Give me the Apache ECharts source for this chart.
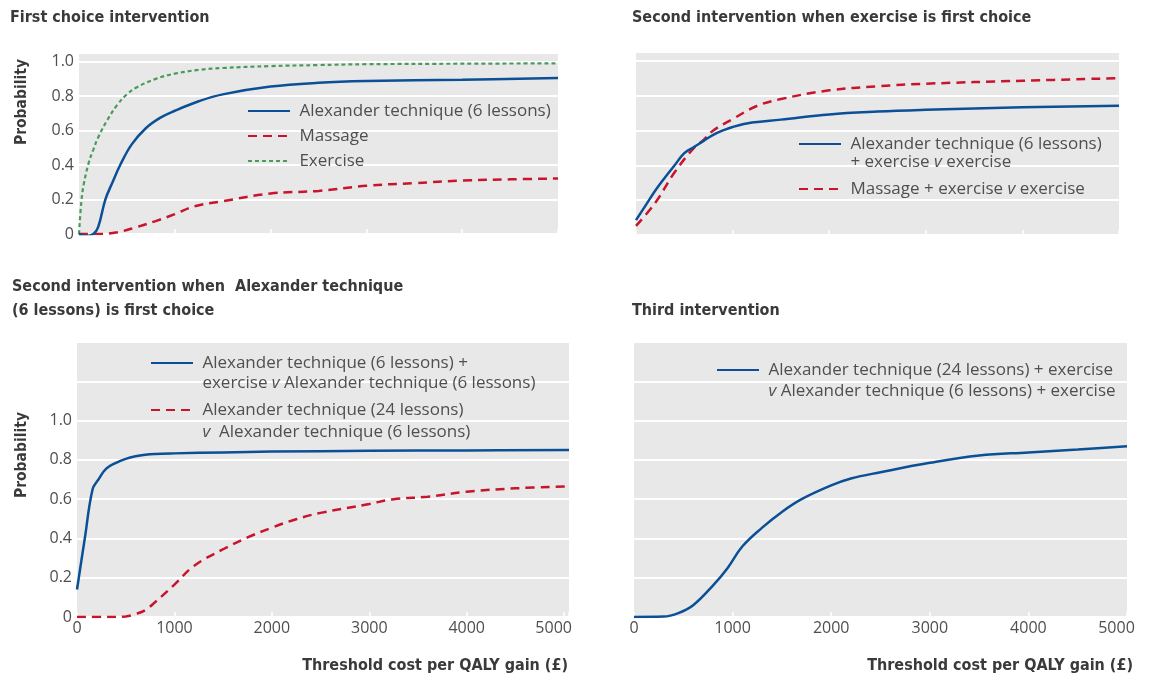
<!DOCTYPE html>
<html><head><meta charset="utf-8">
<script src="https://cdn.jsdelivr.net/npm/echarts@6/dist/echarts.min.js"></script>
<style>html,body{margin:0;padding:0;background:#fff}#c{width:1149px;height:675px}</style>
</head><body><div id="c"></div>
<script>
// ---------- data (threshold cost £ vs probability) ----------
const xTickLabels = ['0', '1000', '2000', '3000', '4000', '5000'];
const yTickLabels = ['0', '0.2', '0.4', '0.6', '0.8', '1.0'];

// Panel A: First choice intervention
const aAlexX = [0, 75, 150, 200, 275, 350, 430, 550, 700, 850, 1000, 1250, 1500, 2000, 2500, 3000, 4000, 5000];
const aAlexY = [0, -0.012, 0.0, 0.04, 0.2, 0.3, 0.4, 0.52, 0.615, 0.675, 0.715, 0.77, 0.81, 0.855, 0.877, 0.887, 0.895, 0.905];
const aMassX = [0, 200, 400, 600, 800, 1000, 1200, 1500, 2000, 2500, 3000, 3500, 4000, 4500, 5000];
const aMassY = [0, 0.0, 0.01, 0.04, 0.075, 0.115, 0.16, 0.19, 0.235, 0.25, 0.28, 0.295, 0.31, 0.317, 0.322];
const aExerX = [0, 25, 50, 100, 150, 200, 300, 400, 500, 600, 800, 1000, 1250, 1500, 2000, 2500, 3000, 4000, 5000];
const aExerY = [0, 0.19, 0.29, 0.41, 0.49, 0.56, 0.665, 0.75, 0.81, 0.85, 0.9, 0.93, 0.952, 0.963, 0.974, 0.98, 0.985, 0.988, 0.99];

// Panel B: Second intervention when exercise is first choice
const bAlexX = [0, 100, 200, 300, 400, 500, 600, 700, 800, 900, 1000, 1200, 1500, 2000, 2500, 3000, 4000, 5000];
const bAlexY = [0.085, 0.17, 0.255, 0.33, 0.40, 0.47, 0.505, 0.54, 0.575, 0.60, 0.62, 0.645, 0.662, 0.692, 0.708, 0.718, 0.733, 0.742];
const bMassX = [0, 200, 400, 600, 700, 800, 1000, 1250, 1500, 2000, 2500, 3000, 4000, 5000];
const bMassY = [0.052, 0.185, 0.36, 0.50, 0.545, 0.60, 0.665, 0.74, 0.78, 0.83, 0.853, 0.868, 0.885, 0.90];

// Panel C: Second intervention when Alexander technique (6 lessons) is first choice
const cAlexExX = [0, 80, 160, 220, 300, 400, 500, 600, 700, 800, 1000, 1500, 2000, 3000, 4000, 5050];
const cAlexExY = [0.14, 0.40, 0.65, 0.70, 0.755, 0.785, 0.805, 0.818, 0.826, 0.83, 0.833, 0.838, 0.842, 0.846, 0.848, 0.85];
const cAlex24X = [0, 300, 500, 600, 700, 800, 1000, 1200, 1500, 1750, 2000, 2250, 2500, 3000, 3250, 3600, 4000, 4500, 5050];
const cAlex24Y = [0, 0, 0.003, 0.015, 0.035, 0.075, 0.165, 0.26, 0.345, 0.405, 0.455, 0.498, 0.53, 0.575, 0.60, 0.612, 0.638, 0.655, 0.665];

// Panel D: Third intervention
const dAlexX = [0, 300, 450, 600, 800, 950, 1100, 1300, 1500, 1700, 2000, 2200, 2500, 3000, 3500, 4000, 4500, 5000];
const dAlexY = [0, 0.002, 0.02, 0.06, 0.16, 0.25, 0.36, 0.455, 0.535, 0.60, 0.67, 0.705, 0.737, 0.785, 0.822, 0.838, 0.853, 0.869];

const zip = (xs, ys) => xs.map((x, i) => [x, ys[i]]);

// ---------- styling ----------
const BLUE = '#0b4f96', RED = '#c8142c', GREEN = '#4a9a5c';
const BG = '#e8e8e8';
const LABEL = '#4f4f4f', TITLE = '#3a3a3a';
const FONT = '"Open Sans", "Noto Sans", sans-serif';
const BOLD = '"DejaVu Sans Condensed", "DejaVu Sans", sans-serif';
const TFONT = 'bold 16px ' + BOLD;

const names = {
  A1: 'Alexander technique (6 lessons)',
  A2: 'Massage',
  A3: 'Exercise',
  B1: 'Alexander technique (6 lessons) + exercise v exercise',
  B2: 'Massage + exercise v exercise',
  C1: 'Alexander technique (6 lessons) + exercise v Alexander technique (6 lessons)',
  C2: 'Alexander technique (24 lessons) v Alexander technique (6 lessons)',
  D1: 'Alexander technique (24 lessons) + exercise v Alexander technique (6 lessons) + exercise'
};
const legendText = {};
legendText[names.A1] = '{n| Alexander technique (6 lessons)}';
legendText[names.A2] = '{n| Massage}';
legendText[names.A3] = '{n| Exercise}';
legendText[names.B1] = '{n| }\n{n| Alexander technique (6 lessons)}\n{n| + exercise }{i|v}{n| exercise}';
legendText[names.B2] = '{n| Massage + exercise }{i|v}{n| exercise}';
legendText[names.C1] = '{n| }\n{n| Alexander technique (6 lessons) +}\n{n| exercise }{i|v}{n| Alexander technique (6 lessons)}';
legendText[names.C2] = '{n| }\n{n| Alexander technique (24 lessons)}\n{n| }{i|v}{n|  Alexander technique (6 lessons)}';
legendText[names.D1] = '{n| }\n{n| Alexander technique (24 lessons) + exercise}\n{n| }{i|v}{n| Alexander technique (6 lessons) + exercise}';

function legend(name, left, top, lh) {
  const base = {fontFamily: FONT, fontSize: 17, color: LABEL, lineHeight: lh};
  return {
    data: [name], left: left, top: top, padding: 0, orient: 'vertical',
    itemWidth: 42, itemHeight: 14, selectedMode: false,
    itemStyle: {color: 'rgba(0,0,0,0)', borderWidth: 0, opacity: 0},
    formatter: n => legendText[n],
    textStyle: {fontFamily: FONT, fontSize: 17, color: LABEL, lineHeight: lh,
      rich: {n: base, i: Object.assign({}, base, {fontStyle: 'italic'})}}
  };
}

const grids = [
  {left: 79, top: 53, width: 479, height: 181},
  {left: 636, top: 52, width: 483, height: 183},
  {left: 77, top: 342, width: 492, height: 275},
  {left: 634, top: 342, width: 493, height: 275}
].map(g => Object.assign(g, {show: true, backgroundColor: BG, borderWidth: 0, containLabel: false}));

function xAxis(i, showLabel, max) {
  return {
    type: 'value', gridIndex: i, min: 0, max: max, interval: 1000,
    axisLine: {show: false},
    axisTick: {show: true, inside: true, length: 5, lineStyle: {color: '#ffffff', width: 1.5}},
    splitLine: {show: false},
    axisLabel: {show: showLabel, color: LABEL, fontFamily: FONT, fontSize: 16, margin: 3,
      rich: {m: {fontFamily: FONT, fontSize: 16, color: LABEL, padding: [0, 21, 0, 0]}},
      formatter: v => (v > 5000 ? '' : (v === 5000 ? '{m|' + xTickLabels[5] + '}' : xTickLabels[Math.round(v / 1000)]))}
  };
}
function yAxis(i, showLabel, max) {
  return {
    type: 'value', gridIndex: i, min: 0, max: max, interval: 0.2,
    axisLine: {show: false}, axisTick: {show: false},
    splitLine: {show: true, lineStyle: {color: '#ffffff', width: 2}},
    axisLabel: {show: showLabel, color: LABEL, fontFamily: FONT, fontSize: 16, margin: 5,
      formatter: v => (v > 1.0001 ? '' : yTickLabels[Math.round(v / 0.2)])}
  };
}

function line(name, idx, data, color, type, width) {
  return {
    name: name, type: 'line', xAxisIndex: idx, yAxisIndex: idx, data: data,
    symbol: 'none', showSymbol: false, smooth: 0.4,
    lineStyle: {color: color, width: width, type: type, cap: 'butt'},
    itemStyle: {color: color}, silent: true, animation: false
  };
}

const dash = [9, 6], dot = [4, 3];

const option = {
  animation: false,
  grid: grids,
  xAxis: [xAxis(0, false, 5000), xAxis(1, false, 5000), xAxis(2, true, 5050), xAxis(3, true, 5000)],
  yAxis: [yAxis(0, true, 1.05), yAxis(1, false, 1.05), yAxis(2, true, 1.4), yAxis(3, false, 1.4)],
  legend: [
    legend(names.A1, 247, 101, 20),
    legend(names.A2, 247, 126, 20),
    legend(names.A3, 247, 151, 20),
    legend(names.B1, 798, 117, 18),
    legend(names.B2, 798, 180, 18),
    legend(names.C1, 150, 333, 20),
    legend(names.C2, 150, 377, 22),
    legend(names.D1, 716, 338.5, 21)
  ],
  series: [
    line(names.A3, 0, zip(aExerX, aExerY), GREEN, dot, 2.2),
    line(names.A2, 0, zip(aMassX, aMassY), RED, dash, 2.5),
    line(names.A1, 0, zip(aAlexX, aAlexY), BLUE, 'solid', 2.5),
    line(names.B2, 1, zip(bMassX, bMassY), RED, dash, 2.5),
    line(names.B1, 1, zip(bAlexX, bAlexY), BLUE, 'solid', 2.5),
    line(names.C2, 2, zip(cAlex24X, cAlex24Y), RED, dash, 2.5),
    line(names.C1, 2, zip(cAlexExX, cAlexExY), BLUE, 'solid', 2.5),
    line(names.D1, 3, zip(dAlexX, dAlexY), BLUE, 'solid', 2.5)
  ],
  graphic: [
    {type: 'text', x: 10, y: 18, style: {text: 'First choice intervention', font: TFONT, fill: TITLE, verticalAlign: 'middle'}},
    {type: 'text', x: 632, y: 18, style: {text: 'Second intervention when exercise is first choice', font: TFONT, fill: TITLE, verticalAlign: 'middle'}},
    {type: 'text', x: 12, y: 287, style: {text: 'Second intervention when  Alexander technique', font: TFONT, fill: TITLE, verticalAlign: 'middle'}},
    {type: 'text', x: 12, y: 311, style: {text: '(6 lessons) is first choice', font: TFONT, fill: TITLE, verticalAlign: 'middle'}},
    {type: 'text', x: 632, y: 311, style: {text: 'Third intervention', font: TFONT, fill: TITLE, verticalAlign: 'middle'}},
    {type: 'text', x: 568, y: 666, style: {text: 'Threshold cost per QALY gain (£)', font: TFONT, fill: TITLE, align: 'right', verticalAlign: 'middle'}},
    {type: 'text', x: 1133, y: 666, style: {text: 'Threshold cost per QALY gain (£)', font: TFONT, fill: TITLE, align: 'right', verticalAlign: 'middle'}},
    {type: 'text', x: 22, y: 102, rotation: Math.PI / 2, style: {text: 'Probability', font: 'bold 15.5px ' + BOLD, fill: TITLE, align: 'center', verticalAlign: 'middle'}},
    {type: 'text', x: 22, y: 455, rotation: Math.PI / 2, style: {text: 'Probability', font: 'bold 15.5px ' + BOLD, fill: TITLE, align: 'center', verticalAlign: 'middle'}}
  ]
};

const chart = echarts.init(document.getElementById('c'), null, {renderer: 'canvas'});
chart.setOption(option);
</script>
</body></html>
